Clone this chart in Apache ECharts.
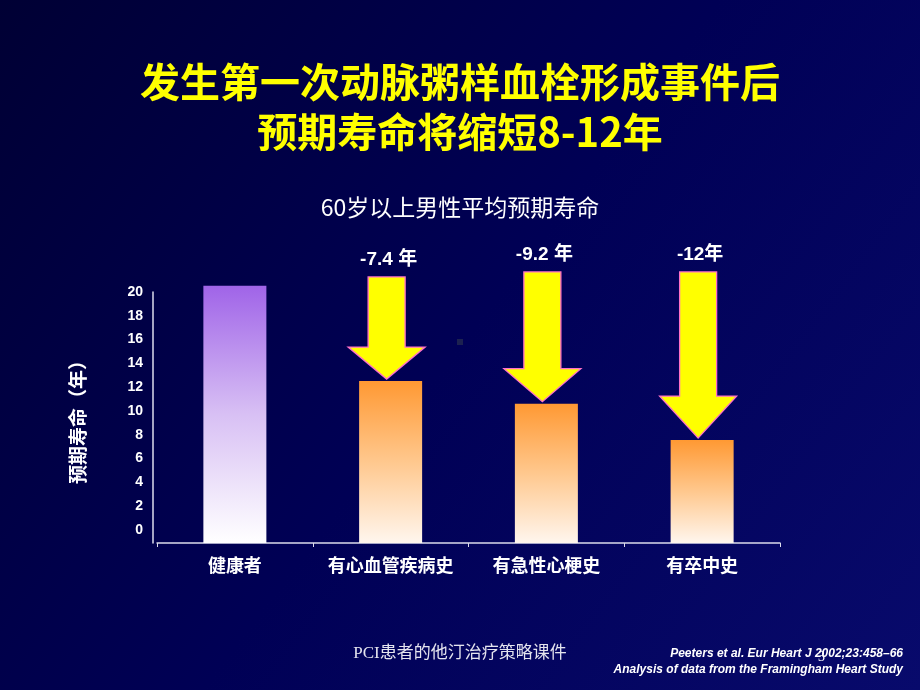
<!DOCTYPE html>
<html>
<head>
<meta charset="utf-8">
<script src="https://cdn.jsdelivr.net/npm/echarts@6/dist/echarts.min.js"></script>
<style>
html,body{margin:0;padding:0;width:920px;height:690px;overflow:hidden;}
#main{width:920px;height:690px;}
</style>
</head>
<body>
<div id="main"></div>
<script>
// ---- data ----
var categories = ['健康者', '有心血管疾病史', '有急性心梗史', '有卒中史'];
var lifeExpectancy = [20.5, 12.9, 11.1, 8.2];
var yTickValues = [0, 2, 4, 6, 8, 10, 12, 14, 16, 18, 20];
var arrowCategories = [1, 2, 3];
var arrowTopValues = [21.2, 21.6, 21.6];
var arrowLabels = ['-7.4 年', '-9.2 年', '-12年'];

// ---- style config ----
var arrowHeadHeights = [32, 33, 42];
var FONT_LATIN = '"Liberation Sans", Arial, "Noto Sans CJK SC", sans-serif';
var FONT_CJK = '"Noto Sans CJK SC", "Liberation Sans", sans-serif';

var chart = echarts.init(document.getElementById('main'), null, {renderer: 'canvas'});

var barData = lifeExpectancy.map(function (v, i) {
  var top = i === 0 ? '#a064e8' : '#ff9933';
  var mid = i === 0 ? '#d8c0f4' : '#ffc88e';
  var bot = i === 0 ? '#ffffff' : '#fff6ee';
  return {
    value: v,
    itemStyle: {
      color: new echarts.graphic.LinearGradient(0, 0, 0, 1, [
        {offset: 0, color: top},
        {offset: 0.5, color: mid},
        {offset: 1, color: bot}
      ])
    }
  };
});

var arrowData = arrowCategories.map(function (c, i) {
  return [c, lifeExpectancy[c], arrowTopValues[i], i];
});

var option = {
  backgroundColor: new echarts.graphic.LinearGradient(0, 0, 1, 1, [
    {offset: 0, color: '#000034'},
    {offset: 0.5, color: '#000055'},
    {offset: 1, color: '#080a6c'}
  ]),
  title: [
    {
      text: '发生第一次动脉粥样血栓形成事件后\n预期寿命将缩短8-12年',
      left: 'center',
      top: 52,
      textStyle: {
        color: '#ffff00',
        fontSize: 40,
        fontWeight: 'bold',
        lineHeight: 50,
        fontFamily: FONT_CJK,
        align: 'center'
      }
    },
    {
      text: '60岁以上男性平均预期寿命',
      left: 'center',
      top: 191,
      textStyle: {
        color: '#ffffff',
        fontSize: 23,
        fontWeight: 'normal',
        fontFamily: FONT_CJK
      }
    }
  ],
  grid: {left: 157, right: 140, top: 292, bottom: 147},
  xAxis: {
    type: 'category',
    data: categories,
    axisLine: {show: true, lineStyle: {color: '#dcdcec', width: 1.5}},
    axisTick: {show: true, length: 4, interval: 0, lineStyle: {color: '#dcdcec'}},
    axisLabel: {
      color: '#ffffff',
      fontSize: 18,
      fontWeight: 'bold',
      margin: 13,
      interval: 0,
      fontFamily: FONT_CJK
    },
    splitLine: {show: false}
  },
  yAxis: [
    {
      type: 'value',
      min: 0,
      max: 20,
      offset: 4,
      axisLine: {show: true, lineStyle: {color: '#dcdcec', width: 1.5}},
      axisTick: {show: false},
      axisLabel: {show: false},
      splitLine: {show: false},
      name: '预期寿命（年）',
      nameLocation: 'middle',
      nameRotate: 90,
      nameGap: 66,
      nameTextStyle: {
        color: '#ffffff',
        fontSize: 19,
        fontWeight: 'bold',
        fontFamily: FONT_CJK
      }
    },
    {
      type: 'value',
      position: 'left',
      offset: 4,
      min: -1.1,
      max: 20,
      axisLine: {show: false},
      axisTick: {show: false},
      splitLine: {show: false},
      axisLabel: {
        customValues: yTickValues,
        color: '#ffffff',
        fontSize: 14,
        fontWeight: 'bold',
        margin: 10,
        fontFamily: FONT_LATIN
      }
    }
  ],
  series: [
    {
      type: 'bar',
      data: barData,
      barWidth: 63,
      clip: false,
      yAxisIndex: 0,
      silent: true
    },
    {
      type: 'custom',
      yAxisIndex: 0,
      clip: false,
      silent: true,
      data: arrowData,
      renderItem: function (params, api) {
        var tip = api.coord([api.value(0), api.value(1)]);
        var top = api.coord([api.value(0), api.value(2)]);
        var idx = api.value(3);
        var cx = tip[0] - 4;
        var tipY = tip[1] - 2;
        var topY = top[1];
        var hh = arrowHeadHeights[idx];
        var sw = 18.5, hw = 38.5;
        var pts = [
          [cx - sw, topY], [cx + sw, topY], [cx + sw, tipY - hh],
          [cx + hw, tipY - hh], [cx, tipY], [cx - hw, tipY - hh],
          [cx - sw, tipY - hh]
        ];
        return {
          type: 'group',
          children: [
            {
              type: 'polygon',
              shape: {points: pts},
              style: {fill: '#ffff00', stroke: '#ff70c8', lineWidth: 1.3}
            },
            {
              type: 'text',
              x: cx + 2,
              y: topY - 17,
              style: {
                text: arrowLabels[idx],
                fill: '#ffffff',
                font: 'bold 19px ' + FONT_LATIN,
                align: 'center',
                verticalAlign: 'middle'
              }
            }
          ]
        };
      }
    }
  ],
  graphic: [
    {
      type: 'rect',
      shape: {x: 457, y: 339, width: 6, height: 6},
      style: {fill: '#1c2150'},
      silent: true
    },
    {
      type: 'text',
      left: 'center',
      top: 645,
      style: {
        text: 'PCI患者的他汀治疗策略课件',
        fill: '#e4e4ee',
        font: '17px "Liberation Serif", "Noto Sans CJK SC", serif'
      }
    },
    {
      type: 'text',
      right: 17,
      top: 648,
      style: {
        text: 'Peeters et al. Eur Heart J 2002;23:458–66',
        fill: '#ffffff',
        font: 'italic bold 12px "Liberation Sans", Arial, sans-serif',
        align: 'right'
      }
    },
    {
      type: 'text',
      right: 17,
      top: 664,
      style: {
        text: 'Analysis of data from the Framingham Heart Study',
        fill: '#ffffff',
        font: 'italic bold 12px "Liberation Sans", Arial, sans-serif',
        align: 'right'
      }
    },
    {
      type: 'text',
      left: 818,
      top: 650,
      style: {
        text: '3',
        fill: '#ffffff',
        font: '14px "Liberation Serif", serif'
      }
    }
  ]
};

chart.setOption(option);
</script>
</body>
</html>
